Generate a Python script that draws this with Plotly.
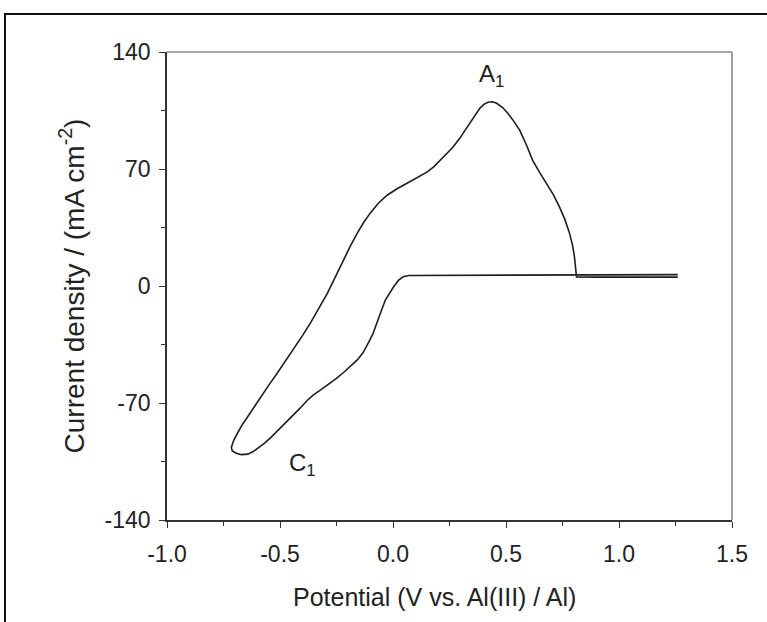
import plotly.graph_objects as go

# Cyclic voltammogram: scan starts at +1.26 V, sweeps negative to -0.72 V, then back
potential = [
    1.26, 1.0, 0.6, 0.3, 0.1, 0.07, 0.045, 0.025, 0.005, -0.015, -0.034, -0.052,
    -0.070, -0.09, -0.109, -0.133, -0.158, -0.190, -0.220, -0.253, -0.286, -0.320,
    -0.352, -0.380, -0.409, -0.443, -0.475, -0.508, -0.541, -0.568, -0.594, -0.620,
    -0.643, -0.670, -0.695, -0.712, -0.715, -0.705, -0.687, -0.667, -0.643, -0.615,
    -0.586, -0.548, -0.511, -0.476, -0.440, -0.402, -0.365, -0.328, -0.290, -0.255,
    -0.220, -0.190, -0.158, -0.130, -0.101, -0.065, -0.026, 0.018, 0.062, 0.105,
    0.150, 0.180, 0.208, 0.237, 0.265, 0.296, 0.327, 0.356, 0.384, 0.402, 0.420,
    0.440, 0.459, 0.485, 0.508, 0.535, 0.561, 0.590, 0.618, 0.650, 0.680, 0.710,
    0.737, 0.760, 0.781, 0.795, 0.803, 0.809, 0.812, 0.9, 1.1, 1.26,
]
current = [
    6.8, 6.7, 6.6, 6.6, 6.5, 6.3, 5.5, 3.5, 0.0, -4.0, -8.4, -15.0,
    -22.1, -29.0, -34.0, -40.0, -44.2, -48.5, -51.9, -55.6, -59.1, -62.2,
    -65.1, -68.5, -72.8, -77.5, -81.8, -86.3, -90.7, -94.0, -96.7, -99.2,
    -100.6, -100.9, -100.0, -98.5, -96.5, -92.5, -87.8, -83.0, -78.2, -72.3,
    -66.3, -59.0, -51.9, -45.0, -38.2, -30.0, -22.1, -13.0, -4.2, 5.5,
    15.5, 23.5, 31.6, 38.0, 43.6, 49.5, 54.3, 58.2, 61.5, 64.5,
    68.1, 71.3, 75.2, 79.0, 83.0, 88.5, 94.9, 101.0, 106.3, 108.7, 109.9,
    110.2, 109.3, 106.8, 103.3, 98.5, 93.1, 84.5, 75.2, 67.7, 61.5, 54.5,
    47.2, 40.0, 31.6, 24.0, 17.3, 10.0, 5.4, 5.3, 5.3, 5.3,
]

x_ticks = [-1.0, -0.5, 0.0, 0.5, 1.0, 1.5]
x_ticktext = ["-1.0", "-0.5", "0.0", "0.5", "1.0", "1.5"]
y_ticks = [-140, -70, 0, 70, 140]
y_ticktext = ["-140", "-70", "0", "70", "140"]

peak_labels = ["A<sub>1</sub>", "C<sub>1</sub>"]
peak_label_x = [0.435, -0.40]
peak_label_y = [126, -107]

x_title = "Potential (V vs. Al(III) / Al)"
y_title = "Current density / (mA cm<sup>-2</sup>)"

FONT = "Liberation Sans, Arial, sans-serif"
INK = "#1e1e1e"
TXT = "#222222"

L, R, T, B = 167, 35, 52, 102
W, H = 767, 622
pw, ph = W - L - R, H - T - B


def px_x(p):
    return (p - L) / pw


def px_y(p):
    return (H - B - p) / ph


fig = go.Figure()
fig.add_trace(go.Scatter(
    x=potential, y=current, mode="lines",
    line=dict(color=INK, width=1.6),
    showlegend=False, hoverinfo="skip",
))

for txt, lx, ly in zip(peak_labels, peak_label_x, peak_label_y):
    fig.add_annotation(x=lx, y=ly, text=txt, showarrow=False,
                       font=dict(family=FONT, size=24, color=INK))

# x-axis title, set slightly left of the axis centre
fig.add_annotation(xref="paper", yref="paper", x=px_x(434), y=px_y(597),
                   xanchor="center", yanchor="middle", showarrow=False,
                   text=x_title, font=dict(family=FONT, size=25, color=TXT))

# Plot frame: dark left/bottom axes, light grey top/right edges
fig.add_shape(type="line", xref="paper", yref="paper", x0=0, x1=1, y0=1, y1=1,
              line=dict(color="#8a8a8a", width=1.6))
fig.add_shape(type="line", xref="paper", yref="paper", x0=1, x1=1, y0=0, y1=1,
              line=dict(color="#8a8a8a", width=1.6))

# Outer figure border (open at the right/bottom edges of the page)
fig.add_shape(type="rect", xref="paper", yref="paper",
              x0=px_x(5), x1=px_x(W + 10), y0=px_y(H + 10), y1=px_y(14),
              line=dict(color="#111111", width=2), fillcolor="rgba(0,0,0,0)")

axis_common = dict(
    showline=True, linecolor="#333333", linewidth=1.6,
    ticks="outside", ticklen=6, tickwidth=1.4, tickcolor="#333333",
    showgrid=False, zeroline=False,
    tickfont=dict(family=FONT, size=23, color=TXT),
)

fig.update_xaxes(
    range=[-1.0, 1.5], tickvals=x_ticks, ticktext=x_ticktext,
    minor=dict(ticks="outside", ticklen=4, tickwidth=1.2, tickcolor="#333333",
               dtick=0.25, tick0=-1.0, showgrid=False),
    ticklabelstandoff=7,
    **axis_common,
)
fig.update_yaxes(
    range=[-140, 140], tickvals=y_ticks, ticktext=y_ticktext,
    minor=dict(ticks="outside", ticklen=4, tickwidth=1.2, tickcolor="#333333",
               dtick=35, tick0=0, showgrid=False),
    title=dict(text=y_title,
               font=dict(family=FONT, size=28, color=TXT), standoff=12),
    ticklabelstandoff=4,
    **axis_common,
)

fig.update_layout(
    width=W, height=H,
    margin=dict(l=L, r=R, t=T, b=B),
    paper_bgcolor="white", plot_bgcolor="white",
)

fig.write_html("out.html")
